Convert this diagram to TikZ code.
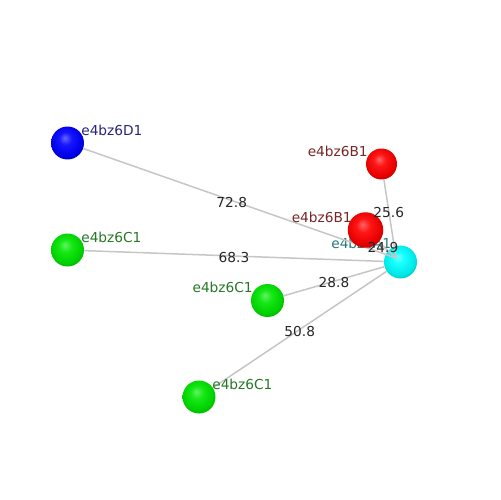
\documentclass[tikz,border=0pt]{standalone}
\usepackage{fontspec}
\setmainfont{DejaVu Sans}
\usetikzlibrary{positioning, calc, backgrounds}
\definecolor{tagblue}{RGB}{38,38,120}
\definecolor{taggreen}{RGB}{38,120,38}
\definecolor{tagred}{RGB}{120,38,38}
\definecolor{tagteal}{RGB}{38,120,120}
\definecolor{atomgreen}{RGB}{0,230,0}
\makeatletter
\pgfdeclareradialshading[tikz@ball]{softball}{\pgfqpoint{-4bp}{8bp}}{%
  color(0bp)=(tikz@ball!60!white); color(10bp)=(tikz@ball!92!white);
  color(24bp)=(tikz@ball!90!black); color(38bp)=(tikz@ball!60!black);
  color(50bp)=(tikz@ball!35!black)}
\makeatother

\begin{document}
\begin{tikzpicture}[x=0.02cm, y=-0.02cm,
        atom/.style={circle, inner sep=0pt, minimum size=0.66cm, ball color=#1, shading=softball},
        bond/.style={draw=gray!45, line width=0.03cm},
        tag/.style={inner sep=0pt, font=\fontsize{7.8}{9}\selectfont},
        dist/.style={inner sep=0pt, text=black!85, yshift=-1pt, font=\fontsize{7.8}{9}\selectfont}]
        \useasboundingbox (0,0) rectangle (500,500);

        \node[atom=blue] (ballD1) at (67.5, 143) {};
        \node[atom=atomgreen] (ballC1a) at (67.5, 250) {};
        \node[atom=atomgreen] (ballC1b) at (267.5, 300.5) {};
        \node[atom=atomgreen] (ballC1c) at (199, 397) {};
        \node[atom=red, minimum size=0.62cm] (ballB1a) at (381.5, 164) {};
        \node[atom=cyan] (ballA1) at (400.5, 262) {};

        \begin{pgfonlayer}{background}
            \draw[bond] (ballC1a) -- (ballA1);
            \draw[bond] (ballC1b) -- (ballA1);
            \draw[bond] (ballC1c) -- (ballA1);
        \end{pgfonlayer}

        \coordinate (hub) at (396, 258);
        \node[tag, text=tagteal, anchor=west] (tagA1) at (331, 243) {e4bz6A1};

        \draw[bond] (ballD1) -- (hub);
        \draw[bond] (ballB1a) -- (hub);

        \node[atom=red, minimum size=0.71cm] (ballB1b) at (365.5, 230) {};
        \draw[bond] (ballB1b) -- (hub);

        \node[tag, text=tagblue, anchor=west] (tagD1) at (81, 130) {e4bz6D1};
        \node[tag, text=taggreen, anchor=west] (tagC1a) at (81, 237) {e4bz6C1};
        \node[tag, text=taggreen, anchor=east] (tagC1b) at (253, 287) {e4bz6C1};
        \node[tag, text=taggreen, anchor=west] (tagC1c) at (212, 384) {e4bz6C1};
        \node[tag, text=tagred, anchor=east] (tagB1a) at (368, 151) {e4bz6B1};
        \node[tag, text=tagred, anchor=east] (tagB1b) at (352, 217) {e4bz6B1};

        \node[dist] (dD1) at ($(ballD1)!0.5!(hub)$) {72.8};
        \node[dist] (dC1a) at ($(ballC1a)!0.5!(ballA1)$) {68.3};
        \node[dist] (dC1b) at ($(ballC1b)!0.5!(ballA1)$) {28.8};
        \node[dist] (dC1c) at ($(ballC1c)!0.5!(ballA1)$) {50.8};
        \node[dist] (dB1a) at ($(ballB1a)!0.5!(hub)$) {25.6};
        \node[dist] (dB1b) at ($(ballB1b)!0.5!(ballA1)$) {24.9};
      \end{tikzpicture}
\end{document}
